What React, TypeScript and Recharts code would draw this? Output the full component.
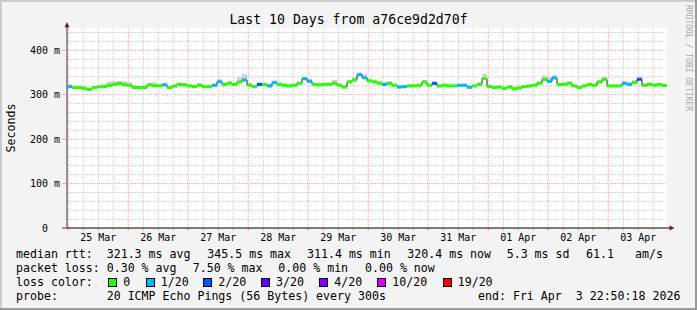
import React from 'react';
import {
  ComposedChart, Line, Area, Scatter, XAxis, YAxis, CartesianGrid,
  ReferenceLine, ReferenceDot,
} from 'recharts';

// ---------- data ----------
const STEP_H = 2; // hours per consolidated sample
const HOURS = 240;
const MIDNIGHT0 = 0.5; // hours from graph start to first midnight

const dayLabels = ['25 Mar', '26 Mar', '27 Mar', '28 Mar', '29 Mar', '30 Mar', '31 Mar', '01 Apr', '02 Apr', '03 Apr'];
const yTicks = [0, 100, 200, 300, 400];

// median rtt (ms), one value every 2 hours
const rtt = [
  318, 316, 316, 314, 311.5, 316, 318, 318, 321, 323, 325, 322, 321, 316, 316, 316, 322, 320, 320, 322, 316, 319, 323, 322,
  319.5, 318, 321, 318, 318, 321, 329, 323, 325.5, 323, 328.5, 333, 321, 318, 323, 322.5, 319.5, 327, 323, 321, 319.5, 321, 325.5, 336,
  330, 323, 322, 323, 323, 325.5, 321, 317, 328.5, 333, 345, 338, 331, 328.5, 325.5, 323, 325, 321, 317, 318, 319.5, 319.5, 321, 328.5,
  321, 325.5, 319.5, 321, 319.5, 319.5, 321, 321, 316.5, 319.5, 323, 336, 318, 316, 317, 314, 317, 313, 315, 318, 319.5, 321, 325.5, 334.5,
  330, 337.5, 323, 323, 325.5, 319.5, 316, 319.5, 323, 321, 328.5, 334.5, 319.5, 319.5, 319.5, 325.5, 323, 327, 334.5, 321, 323, 321, 322.5, 320.4,
];

// top of the smoke (ms)
const smokeHi = [
  323, 320, 319, 318, 316, 319, 322, 323, 329, 330, 331, 330, 328, 321, 320, 320, 326, 328, 324, 327, 320, 323, 327, 326,
  324, 322, 326, 322, 321, 325, 335, 328, 330, 327, 340, 346, 327, 322, 328, 326, 324, 332, 327, 325, 323, 325, 329, 340,
  336, 327, 326, 327, 327, 333, 325, 321, 333, 340, 350, 346, 336, 334, 332, 329, 331, 325, 322, 322, 323, 324, 325, 333,
  325, 329, 323, 325, 323, 323, 325, 325, 320, 323, 328, 347, 323, 320, 321, 318, 321, 318, 319, 322, 323, 325, 330, 343,
  340, 344, 327, 327, 330, 323, 320, 323, 327, 325, 333, 340, 323, 323, 323, 330, 328, 333, 340, 325, 328, 326, 326, 324,
];

// packet loss level (index into lossColors)
const loss = [
  1, 0, 0, 0, 0, 0, 0, 0, 0, 0, 0, 0, 0, 0, 0, 0, 0, 0, 0, 1, 0, 0, 0, 0,
  0, 0, 0, 0, 0, 1, 1, 0, 0, 0, 0, 1, 0, 0, 2, 0, 1, 1, 0, 0, 0, 0, 0, 1,
  1, 0, 0, 0, 0, 0, 0, 0, 0, 0, 1, 1, 0, 0, 0, 1, 0, 0, 1, 1, 0, 0, 0, 0,
  0, 2, 0, 0, 0, 0, 1, 1, 1, 0, 0, 0, 0, 0, 0, 0, 0, 0, 0, 0, 0, 0, 0, 0,
  1, 1, 0, 0, 0, 0, 0, 0, 0, 0, 0, 0, 0, 0, 0, 1, 1, 0, 2, 0, 0, 0, 0, 0,
];

const lossColors = ['#26ff00', '#00b8ff', '#0059ff', '#5e00ff', '#7e00ff', '#dd00ff', '#ff0000'];
const lossLabels = ['0', '1/20', '2/20', '3/20', '4/20', '10/20', '19/20'];

const rttLegend = ['median rtt:', '321.3 ms avg', '345.5 ms max', '311.4 ms min', '320.4 ms now', '5.3 ms sd', '61.1', 'am/s'];
const lossLegend = ['packet loss:', '0.30 % avg', '7.50 % max', '0.00 % min', '0.00 % now'];
const probeLegend = ['probe:', '20 ICMP Echo Pings (56 Bytes) every 300s', 'end: Fri Apr  3 22:50:18 2026'];

const title = 'Last 10 Days from a76ce9d2d70f';
const yLabel = 'Seconds';
const watermark = 'RRDTOOL / TOBI OETIKER';

// ---------- tables ----------
const segs = rtt.map((v, i) => ({ t: i * STEP_H, rtt: v, hi: smokeHi[i], loss: loss[i] }));
const table = [...segs, { t: HOURS, rtt: rtt[rtt.length - 1], hi: smokeHi[smokeHi.length - 1], loss: 0 }];

const majorX = dayLabels.map((_, k) => MIDNIGHT0 + 24 * k);
const minorX: number[] = [];
for (let h = MIDNIGHT0; h < HOURS; h += 6) if ((h - MIDNIGHT0) % 24 !== 0) minorX.push(h);
const noonX = dayLabels.map((_, k) => MIDNIGHT0 + 12 + 24 * k);
const majorY = [100, 200, 300, 400];
const minorY: number[] = [];
for (let v = 20; v < 450; v += 20) if (v % 100 !== 0) minorY.push(v);

// ---------- layout ----------
const W = 697;
const H = 310;
const PLOT_W = 600;
const SEG_W = PLOT_W / rtt.length;
const FONT = '"DejaVu Sans Mono", monospace';
const LEG_FS = 11.6;

const rttX = [16, 106.7, 207.3, 307, 407.3, 506.7, 586, 635];
const lossX = [16, 106.7, 192.7, 278.3, 365];
const probeX = [16, 106.7, 478];
const boxX = [108.3, 145.7, 203.3, 261, 319.3, 377.3, 442.7];

const YTick = (props: any) => {
  const { x, y, payload } = props;
  const v = payload.value;
  const txt = v === 0 ? '0  ' : `${v} m`;
  return (
    <text x={x} y={y} dy="0.36em" textAnchor="end" fontFamily={FONT} fontSize={10} fill="#000" style={{ whiteSpace: 'pre' }}>
      {txt}
    </text>
  );
};

const SegShape = (props: any) => {
  const { cx, cy, payload } = props;
  if (cx == null || cy == null) return null;
  return <rect x={cx} y={cy - 1.5} width={SEG_W} height={3} fill={lossColors[payload.loss]} />;
};

const UpArrow = (props: any) => {
  const { cx, cy } = props;
  return <path d={`M${cx - 2.5},${cy + 5} L${cx},${cy} L${cx + 2.5},${cy + 5} Z`} fill="#7f1010" />;
};
const RightArrow = (props: any) => {
  const { cx, cy } = props;
  return <path d={`M${cx},${cy - 2.5} L${cx + 5},${cy} L${cx},${cy + 2.5} Z`} fill="#7f1010" />;
};

const txt = (s: string, x: number, top: number, key: string | number, fs = LEG_FS) => (
  <div key={key} style={{ position: 'absolute', left: x, top, fontFamily: FONT, fontSize: fs, lineHeight: '14px', whiteSpace: 'pre', color: '#000' }}>{s}</div>
);

export default function App() {
  return (
    <div style={{ position: 'absolute', left: 0, top: 0, width: W, height: H, background: '#f3f3f3', overflow: 'hidden' }}>
      {/* frame */}
      <div style={{ position: 'absolute', left: 0, top: 0, width: W, height: 2, background: '#cbcbcb' }} />
      <div style={{ position: 'absolute', left: 0, top: 0, width: 2, height: H, background: '#cbcbcb' }} />
      <div style={{ position: 'absolute', left: 0, top: H - 2, width: W, height: 2, background: '#999' }} />
      <div style={{ position: 'absolute', left: W - 2, top: 0, width: 2, height: H, background: '#999' }} />

      <div style={{ position: 'absolute', left: 0, top: 0 }}>
        <ComposedChart width={W} height={H} data={table} margin={{ top: 28, right: 30, bottom: 62, left: 7 }}>
          <CartesianGrid fill="#fff" stroke="#c8c8c8" strokeDasharray="1 1" verticalValues={minorX} horizontalValues={minorY} />
          <CartesianGrid stroke="#f2a0a0" strokeDasharray="1 1" verticalValues={majorX} horizontalValues={majorY} />
          <XAxis
            dataKey="t" type="number" domain={[0, HOURS]} allowDataOverflow ticks={noonX} interval={0}
            height={20} axisLine={false} tickLine={false} tickSize={4} tickMargin={2}
            tickFormatter={(v: number) => dayLabels[Math.round((v - MIDNIGHT0 - 12) / 24)]}
            tick={{ fontFamily: FONT, fontSize: 10, fill: '#000' }}
          />
          <YAxis
            type="number" domain={[0, 450]} allowDataOverflow ticks={yTicks} interval={0}
            width={60} axisLine={false} tickSize={5} tickMargin={2}
            tickLine={{ stroke: '#f2a0a0' }} tick={<YTick />}
          />
          <Area dataKey={(d: any) => [d.rtt, d.hi]} type="stepAfter" fill="#cfcfcf" fillOpacity={1} stroke="none" isAnimationActive={false} />
          <Line dataKey="rtt" type="stepAfter" stroke="#1a1a1a" strokeWidth={1} dot={false} isAnimationActive={false} />
          <Scatter data={segs} dataKey="rtt" shape={<SegShape />} isAnimationActive={false} />
          {minorX.map((h) => (
            <ReferenceLine key={'mt' + h} segment={[{ x: h, y: 0 }, { x: h, y: -5 }]} stroke="#bbbbbb" ifOverflow="visible" />
          ))}
          {majorX.map((h) => (
            <ReferenceLine key={'Mt' + h} segment={[{ x: h, y: 0 }, { x: h, y: -5 }]} stroke="#f08080" ifOverflow="visible" />
          ))}
          <ReferenceLine segment={[{ x: -2, y: 0 }, { x: 241, y: 0 }]} stroke="#000" ifOverflow="visible" />
          <ReferenceLine segment={[{ x: 0, y: 0 }, { x: 0, y: 460 }]} stroke="#333" ifOverflow="visible" />
          <ReferenceDot x={0} y={463} ifOverflow="visible" shape={<UpArrow />} />
          <ReferenceDot x={241} y={0} ifOverflow="visible" shape={<RightArrow />} />
        </ComposedChart>
      </div>

      {/* title */}
      <div style={{ position: 'absolute', left: 0, top: 11.5, width: W, textAlign: 'center', fontFamily: FONT, fontSize: 13.2, lineHeight: '16px', color: '#000' }}>{title}</div>

      {/* y label */}
      <div style={{ position: 'absolute', left: 10.5 - 40, top: 128 - 7, width: 80, height: 14, textAlign: 'center', fontFamily: FONT, fontSize: LEG_FS, lineHeight: '14px', color: '#000', transform: 'rotate(-90deg)' }}>{yLabel}</div>

      {/* watermark */}
      <div style={{ position: 'absolute', left: 688 - 60, top: 58 - 6, width: 120, height: 12, textAlign: 'center', fontFamily: FONT, fontSize: 8, lineHeight: '12px', color: '#a8a8a8', transform: 'rotate(90deg)' }}>{watermark}</div>

      {/* legend */}
      {rttLegend.map((s, i) => txt(s, rttX[i], 247.3, 'r' + i))}
      {lossLegend.map((s, i) => txt(s, lossX[i], 261.3, 'l' + i))}
      {txt('loss color:', 16, 275.2, 'lc')}
      {lossLabels.map((s, i) => (
        <React.Fragment key={'b' + i}>
          <div style={{ position: 'absolute', left: boxX[i], top: 278, width: 9, height: 9, boxSizing: 'border-box', border: '1px solid #000', background: lossColors[i] }} />
          {txt(s, boxX[i] + 15, 275.2, 'bl' + i)}
        </React.Fragment>
      ))}
      {probeLegend.map((s, i) => txt(s, probeX[i], 289.2, 'p' + i))}
    </div>
  );
}
